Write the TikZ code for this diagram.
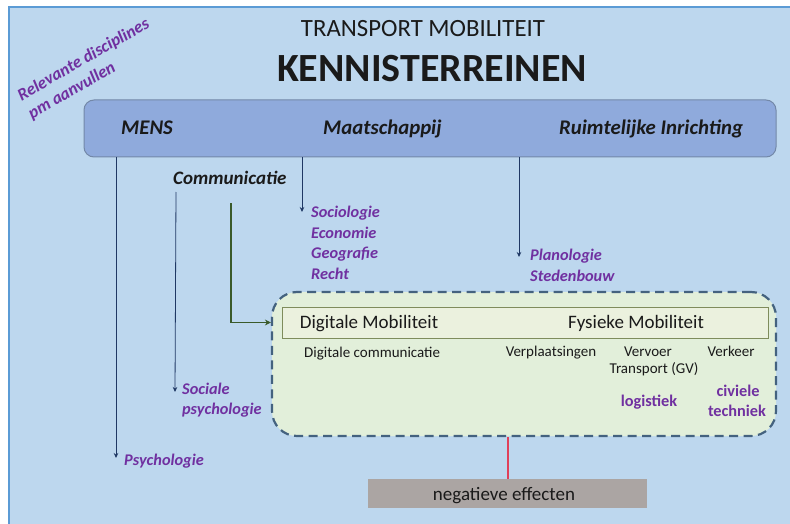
\documentclass[tikz,border=0pt]{standalone}
\usepackage{fontspec}
\setmainfont{Carlito}
\usetikzlibrary{arrows.meta}
\definecolor{bgblue}{HTML}{BDD7EE}
\definecolor{frameblue}{HTML}{5B9BD5}
\definecolor{bandfill}{HTML}{8FAADC}
\definecolor{banddraw}{HTML}{7388A8}
\definecolor{navy}{HTML}{1F3864}
\definecolor{purp}{HTML}{7030A0}
\definecolor{greenfill}{HTML}{E2EFDA}
\definecolor{innerfill}{HTML}{EBF1DE}
\definecolor{innerdraw}{HTML}{7F8C5C}
\definecolor{dashdraw}{HTML}{44627F}
\definecolor{darkgreen}{HTML}{3A5A2A}
\definecolor{graybox}{HTML}{ABA5A3}
\definecolor{redline}{HTML}{E0405A}
\definecolor{txt}{HTML}{1A1A1A}
\tikzset{
  lbl/.style={inner sep=0pt, text=txt},
  bandlbl/.style={lbl, anchor=base west, font=\fontsize{20.8}{24}\selectfont\bfseries\itshape},
  disc/.style={inner sep=0pt, anchor=base west, text=purp, font=\fontsize{16.3}{19}\selectfont\bfseries\itshape},
  discb/.style={inner sep=0pt, anchor=base, text=purp, font=\fontsize{16.3}{19}\selectfont\bfseries},
  small/.style={lbl, font=\fontsize{15}{18}\selectfont},
  navyarrow/.style={draw=navy, line width=0.8pt, -{Stealth[length=5pt,width=4.5pt]}},
  greenarrow/.style={draw=darkgreen, line width=1.8pt, -{Stealth[length=6pt,width=6pt]}},
}
\begin{document}
\begin{tikzpicture}[x=1pt,y=-1pt]
\useasboundingbox (0,0) rectangle (790,524);
\fill[white] (0,0) rectangle (790,524);
\fill[bgblue] (8,6) rectangle (790,524);
\draw[frameblue, line width=2pt] (8.5,524) -- (8.5,7) -- (790,7);

% titles
\node[lbl, anchor=base, font=\fontsize{24.8}{28}\selectfont] (t1) at (423,37) {TRANSPORT MOBILITEIT};
\node[lbl, anchor=base, font=\fontsize{40}{46}\selectfont\bfseries] (t2) at (432,82) {KENNISTERREINEN};

% rotated note
\node[inner sep=0pt, text=purp, rotate=30, align=left, font=\fontsize{17.3}{21}\selectfont\bfseries\itshape] (note) at (89,69) {Relevante disciplines\\pm aanvullen};

% band
\node[draw=banddraw, fill=bandfill, line width=1pt, rounded corners=10pt, minimum width=692pt, minimum height=57pt, inner sep=0pt] (band) at (430,128.5) {};
\node[bandlbl] (mens) at (121,135) {MENS};
\node[bandlbl] (maat) at (323,135) {Maatschappij};
\node[bandlbl] (ruimte) at (559,135) {Ruimtelijke Inrichting};

% communicatie
\node[lbl, anchor=base west, font=\fontsize{19}{22}\selectfont\bfseries\itshape] (comm) at (173,185) {Communicatie};

% discipline lists
\node[disc] (soc) at (311,217) {Sociologie};
\node[disc] (eco) at (311,238) {Economie};
\node[disc] (geo) at (311,258.5) {Geografie};
\node[disc] (recht) at (311,279) {Recht};
\node[disc] (plan) at (530,260) {Planologie};
\node[disc] (sted) at (530,281) {Stedenbouw};
\node[disc] (socps1) at (182,394) {Sociale};
\node[disc] (socps2) at (182,414) {psychologie};
\node[disc] (psy) at (124,465) {Psychologie};

% dashed mobility box
\node[draw=dashdraw, fill=greenfill, line width=2.2pt, dash pattern=on 9pt off 5.5pt, rounded corners=25pt, minimum width=504pt, minimum height=144pt, inner sep=0pt] (mob) at (524,364) {};
\node[draw=innerdraw, fill=innerfill, line width=0.8pt, minimum width=486pt, minimum height=31pt, inner sep=0pt] (inner) at (525,322.5) {};
\node[lbl, anchor=base, font=\fontsize{19}{22}\selectfont] (digmob) at (369,328) {Digitale Mobiliteit};
\node[lbl, anchor=base, font=\fontsize{19}{22}\selectfont] (fysmob) at (636,328) {Fysieke Mobiliteit};
\node[small, anchor=base west] (digcom) at (304,357) {Digitale communicatie};
\node[small, anchor=base] (verpl) at (551,356) {Verplaatsingen};
\node[small, anchor=base] (vervoer) at (648,356) {Vervoer};
\node[small, anchor=base] (transp) at (654,373) {Transport (GV)};
\node[small, anchor=base] (verkeer) at (731,356) {Verkeer};
\node[discb] (logi) at (649,406) {logistiek};
\node[discb] (civ1) at (738,396) {civiele};
\node[discb] (civ2) at (737,416) {techniek};

% negative effects
\node[fill=graybox, minimum width=279pt, minimum height=29pt, inner sep=0pt] (negbox) at (507.5,493.5) {};
\node[lbl, anchor=base, font=\fontsize{19}{22}\selectfont] (neg) at (504,500) {negatieve effecten};

% connector coordinates
\coordinate (psyTip) at (116,458);
\coordinate (socpsTip) at (175,392);
\coordinate (socTip) at (302,212);
\coordinate (planTip) at (519,257);
\coordinate (commStart) at (176,192);
\coordinate (greenStart) at (231,203);
\coordinate (redX) at (508,0);

% connectors
\draw[navyarrow] (band.south -| psyTip) -- (psyTip);
\draw[navyarrow] (commStart) -- (socpsTip);
\draw[navyarrow] (band.south -| socTip) -- (socTip);
\draw[navyarrow] (band.south -| planTip) -- (planTip);
\draw[greenarrow] (greenStart) |- (mob.west |- inner.center);
\draw[draw=redline, line width=1.5pt] (mob.south -| redX) -- (negbox.north -| redX);
\end{tikzpicture}
\end{document}
